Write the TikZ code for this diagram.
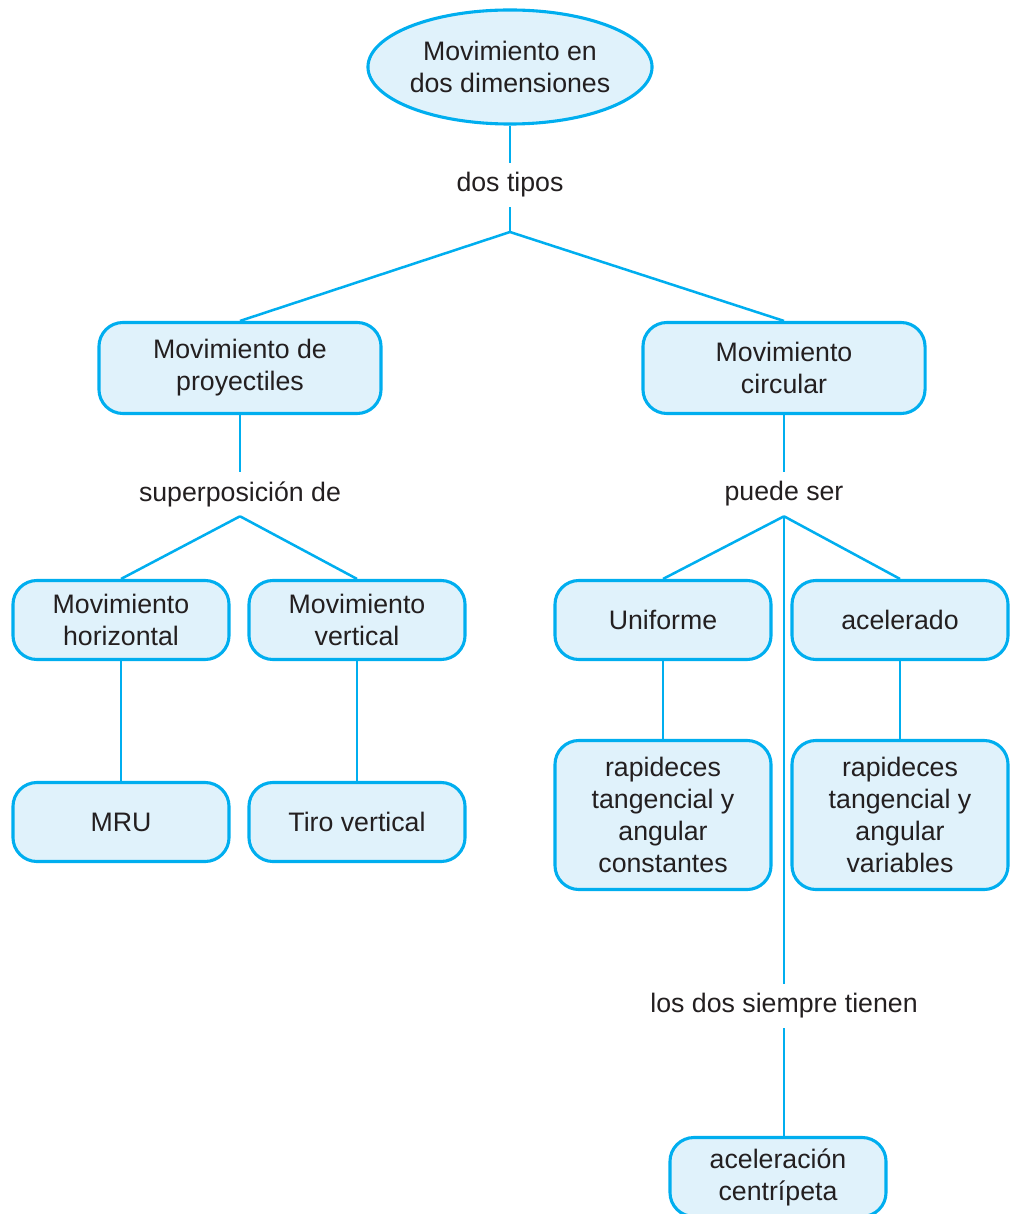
\documentclass[tikz,border=0pt]{standalone}
\usepackage{fontspec}
\setmainfont{Liberation Sans}
\usetikzlibrary{
    positioning,
    shapes.geometric
}
\definecolor{MapLine}{RGB}{0,174,239}
\definecolor{MapFill}{RGB}{224,242,251}
\definecolor{MapText}{RGB}{35,31,32}
\tikzset{
  concept/.style  = {draw=MapLine, fill=MapFill, line width=2.2pt,
                     rounded corners=0.6cm, align=center, inner sep=0pt,
                     text=MapText, font=\fontsize{19}{22.8}\selectfont},
  bigbox/.style   = {concept, minimum width=7.05cm, minimum height=2.275cm},
  smallbox/.style = {concept, minimum width=5.4cm, minimum height=1.975cm},
  tallbox/.style  = {concept, minimum width=5.4cm, minimum height=3.725cm},
  linklbl/.style  = {align=center, inner sep=0pt, minimum height=1.1cm,
                     text=MapText, font=\fontsize{19}{22.8}\selectfont},
  conn/.style     = {draw=MapLine, line width=1.8pt}
}
\begin{document}
\begin{tikzpicture}[x=0.025cm, y=-0.025cm]
  \useasboundingbox (0,0) rectangle (1016,1214);

  % top concept
  \node[concept, ellipse, rounded corners=0pt, minimum width=7.1cm,
        minimum height=2.85cm] (top) at (510,67) {Movimiento en\\dos dimensiones};
  \node[linklbl] (tipos) at (510,185) {dos tipos};
  \coordinate (bTop) at (510,232);

  % two kinds
  \node[bigbox] (proy) at (240,368) {Movimiento de\\proyectiles};
  \node[bigbox] (circ) at (784,368) {Movimiento\\circular};

  % left branch
  \node[linklbl] (super) at (240,494) {superposición de};
  \node[smallbox] (horiz) at (121,620) {Movimiento\\horizontal};
  \node[smallbox] (vert)  at (357,620) {Movimiento\\vertical};
  \node[smallbox] (mru)   at (121,822) {MRU};
  \node[smallbox] (tiro)  at (357,822) {Tiro vertical};

  % right branch
  \node[linklbl] (puede) at (784,494) {puede ser};
  \node[smallbox] (unif) at (663,620) {Uniforme};
  \node[smallbox] (acel) at (900,620) {acelerado};
  \node[tallbox] (rconst) at (663,815) {rapideces\\tangencial y\\angular\\constantes};
  \node[tallbox] (rvar)   at (900,815) {rapideces\\tangencial y\\angular\\variables};
  \node[linklbl] (siempre) at (784,1006) {los dos siempre tienen};
  \node[smallbox] (centr) at (778,1177) {aceleración\\centrípeta};

  \draw[conn] (top)   -- (tipos);
  \draw[conn] (tipos) -- (bTop);
  \draw[conn] (bTop)  -- (proy.north);
  \draw[conn] (bTop)  -- (circ.north);

  \draw[conn] (proy)  -- (super);
  \draw[conn] (super.south) -- (horiz.north);
  \draw[conn] (super.south) -- (vert.north);
  \draw[conn] (horiz) -- (mru);
  \draw[conn] (vert)  -- (tiro);

  \draw[conn] (circ)  -- (puede);
  \draw[conn] (puede.south) -- (unif.north);
  \draw[conn] (puede.south) -- (acel.north);
  \draw[conn] (puede.south) -- (siempre.north);
  \draw[conn] (unif)  -- (rconst);
  \draw[conn] (acel)  -- (rvar);
  \draw[conn] (siempre.south) -- (siempre.south |- centr.north);

\end{tikzpicture}
\end{document}
